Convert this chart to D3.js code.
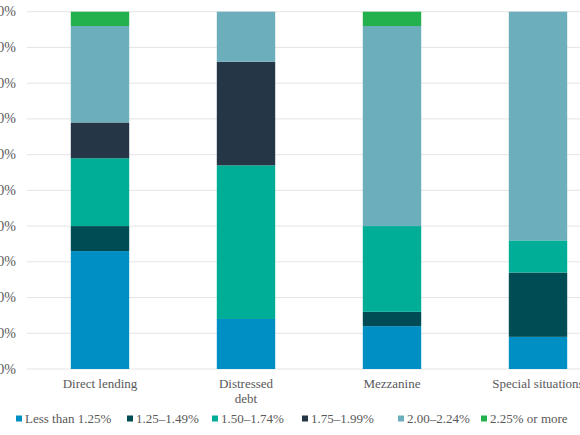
<!DOCTYPE html>
<html>
<head>
<meta charset="utf-8">
<script src="https://cdn.jsdelivr.net/npm/d3@7"></script>
<style>
  body { margin: 0; background: #fff; }
</style>
</head>
<body>
<div id="chart"></div>
<script>
// categories and series, values in percent of each bar
var categories = ["Direct lending", "Distressed debt", "Mezzanine", "Special situations"]
var series = ["Less than 1.25%", "1.25\u20131.49%", "1.50\u20131.74%", "1.75\u20131.99%", "2.00\u20132.24%", "2.25% or more"]
var lessThan125 = [33, 14, 12, 9]
var from125 = [7, 0, 4, 18]
var from150 = [19, 43, 24, 9]
var from175 = [10, 29, 0, 0]
var from200 = [27, 14, 56, 64]
var over225 = [4, 0, 4, 0]
var yTicks = [0, 10, 20, 30, 40, 50, 60, 70, 80, 90, 100]

var colors = ["#008fc4", "#004c55", "#00ad96", "#253746", "#6daebc", "#22b14c"]

var width = 580, height = 435
var font = "'Liberation Serif', 'DejaVu Serif', serif"
var values = [lessThan125, from125, from150, from175, from200, over225]

// rows for d3.stack
var rows = categories.map(function(c, i){
    var r = {cat: c}
    series.forEach(function(s, j){ r[s] = values[j][i] })
    return r
})

var svg = d3.select("#chart").append("svg")
    .attr("width", width)
    .attr("height", height)
    .attr("font-family", font)

var x = d3.scaleBand()
    .domain(categories)
    .range([27, 611])
    .paddingInner(0.6)
    .paddingOuter(0.3)

var y = d3.scaleLinear()
    .domain([0, 100])
    .range([369, 11.7])

// gridlines
svg.append("g").selectAll("line")
    .data(yTicks)
    .enter().append("line")
    .attr("x1", 27)
    .attr("x2", width)
    .attr("y1", function(d){ return y(d) })
    .attr("y2", function(d){ return y(d) })
    .attr("stroke", "#e4e4e4")
    .attr("stroke-width", 1)

// y labels (clipped on the left like the reference)
svg.append("g").selectAll("text")
    .data(yTicks)
    .enter().append("text")
    .attr("x", 16)
    .attr("y", function(d){ return y(d) + 4.5 })
    .attr("text-anchor", "end")
    .attr("fill", "#595959")
    .attr("font-size", 14)
    .text(function(d){ return d + "%" })

var stacked = d3.stack().keys(series)(rows)

svg.append("g").selectAll("g")
    .data(stacked)
    .enter().append("g")
    .attr("fill", function(d, i){ return colors[i] })
    .selectAll("rect")
    .data(function(d){ return d })
    .enter().append("rect")
    .attr("x", function(d){ return x(d.data.cat) })
    .attr("width", x.bandwidth())
    .attr("y", function(d){ return y(d[1]) })
    .attr("height", function(d){ return y(d[0]) - y(d[1]) })

// category labels, "Distressed debt" wraps onto two lines
var catLines = {"Distressed debt": ["Distressed", "debt"]}
svg.append("g").selectAll("text")
    .data(categories)
    .enter().append("text")
    .attr("text-anchor", "middle")
    .attr("y", 388)
    .attr("fill", "#595959")
    .attr("font-size", 13)
    .each(function(d){
        var lines = catLines[d] || [d]
        var t = d3.select(this)
        lines.forEach(function(l, k){
            t.append("tspan")
                .attr("x", x(d) + x.bandwidth() / 2)
                .attr("dy", k === 0 ? 0 : 15)
                .text(l)
        })
    })

// legend
var legendX = [16, 127, 212, 302, 398, 481]
var legend = svg.append("g").selectAll("g")
    .data(series)
    .enter().append("g")
    .attr("transform", function(d, i){ return "translate(" + legendX[i] + ",419)" })

legend.append("rect")
    .attr("x", 0)
    .attr("y", -3.5)
    .attr("width", 6)
    .attr("height", 6)
    .attr("fill", function(d, i){ return colors[i] })

legend.append("text")
    .attr("x", 9)
    .attr("y", 4)
    .attr("fill", "#595959")
    .attr("font-size", 13)
    .text(function(d){ return d })
</script>
</body>
</html>
